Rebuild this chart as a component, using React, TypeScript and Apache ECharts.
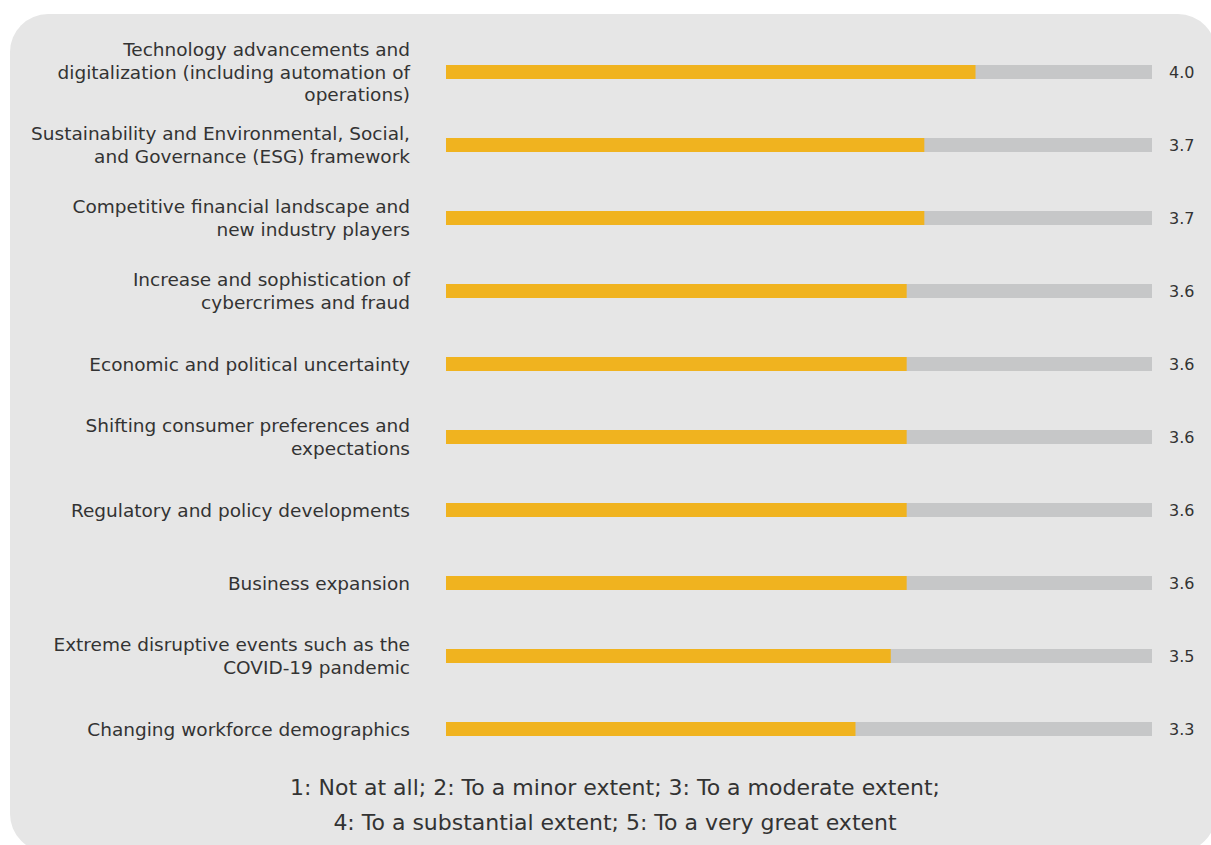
import React, { useEffect, useRef } from "react";
import * as echarts from "echarts";

const categories: string[] = [
  "Technology advancements and\ndigitalization (including automation of\noperations)",
  "Sustainability and Environmental, Social,\nand Governance (ESG) framework",
  "Competitive financial landscape and\nnew industry players",
  "Increase and sophistication of\ncybercrimes and fraud",
  "Economic and political uncertainty",
  "Shifting consumer preferences and\nexpectations",
  "Regulatory and policy developments",
  "Business expansion",
  "Extreme disruptive events such as the\nCOVID-19 pandemic",
  "Changing workforce demographics",
];

const scores: number[] = [4.0, 3.71, 3.71, 3.61, 3.61, 3.61, 3.61, 3.61, 3.52, 3.32];

const scaleMin = 1;
const scaleMax = 5;

const noteLines: string[] = [
  "1: Not at all; 2: To a minor extent; 3: To a moderate extent;",
  "4: To a substantial extent; 5: To a very great extent",
];

const FONT = "DejaVu Sans, Verdana, sans-serif";

export default function App() {
  const ref = useRef<HTMLDivElement>(null);

  useEffect(() => {
    if (!ref.current) return;
    const chart = echarts.init(ref.current, undefined, { renderer: "svg" });
    chart.setOption({
      animation: false,
      backgroundColor: "#ffffff",
      textStyle: { fontFamily: FONT },
      graphic: [
        {
          type: "rect",
          z: -10,
          silent: true,
          shape: { x: 10, y: 14, width: 1206, height: 838, r: 38 },
          style: { fill: "#E6E6E6" },
        },
        ...noteLines.map((t, i) => ({
          type: "text",
          z: 10,
          x: 615,
          y: 787 + i * 35,
          style: {
            text: t,
            fill: "#333333",
            font: `22px ${FONT}`,
            textAlign: "center",
            textVerticalAlign: "middle",
          },
        })),
      ],
      grid: { left: 446, right: 59, top: 35.5, bottom: 79.5, containLabel: false },
      xAxis: {
        type: "value",
        min: scaleMin,
        max: scaleMax,
        show: false,
      },
      yAxis: [
        {
          type: "category",
          data: categories,
          inverse: true,
          axisLine: { show: false },
          axisTick: { show: false },
          splitLine: { show: false },
          axisLabel: {
            margin: 36,
            fontSize: 18.5,
            lineHeight: 22.5,
            color: "#333333",
            fontFamily: FONT,
            align: "right",
            padding: [4, 0, 0, 0],
          },
        },
        {
          type: "category",
          data: scores.map((v) => v.toFixed(1)),
          inverse: true,
          position: "right",
          axisLine: { show: false },
          axisTick: { show: false },
          splitLine: { show: false },
          axisLabel: {
            margin: 17,
            fontSize: 16,
            color: "#333333",
            fontFamily: FONT,
            align: "left",
          },
        },
      ],
      series: [
        {
          type: "bar",
          data: scores,
          barWidth: 14,
          yAxisIndex: 0,
          itemStyle: { color: "#F0B31F" },
          showBackground: true,
          backgroundStyle: { color: "#C6C7C8" },
        },
      ],
    });
    return () => chart.dispose();
  }, []);

  return (
    <div
      ref={ref}
      style={{ position: "fixed", left: 0, top: 0, width: 1211, height: 845 }}
    />
  );
}
